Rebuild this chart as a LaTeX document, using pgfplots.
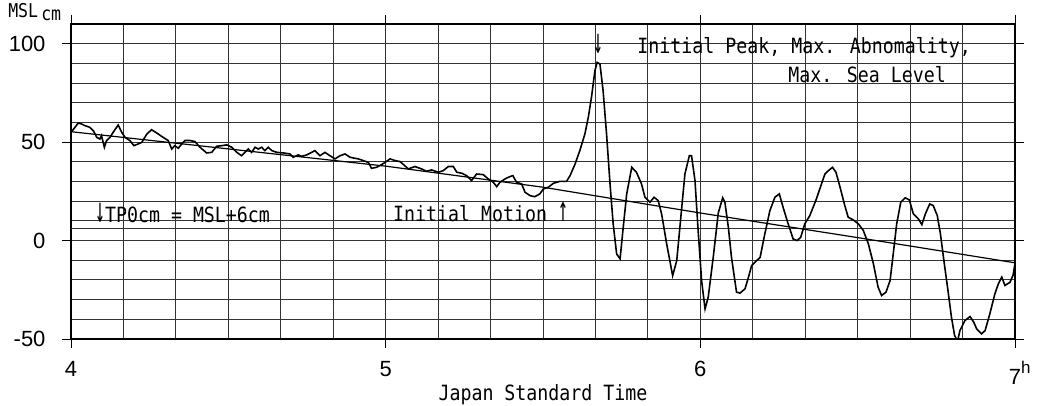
\documentclass[border=0pt]{standalone}
\usepackage{fontspec}
\setmainfont{Liberation Sans}
\newfontfamily\mono[FakeStretch=0.87]{DejaVu Sans Mono}
\usepackage{pgfplots}
\pgfplotsset{compat=1.18}

\newcommand\annfont{\mono\fontsize{21bp}{25bp}\selectfont}
\newcommand\dn{\scalebox{0.9}[1.7]{↓}}
\newcommand\up{\scalebox{0.9}[1.7]{↑}}

\begin{document}
\begin{tikzpicture}
\begin{axis}[
    scale only axis, width=944bp, height=315bp,
    xmin=4, xmax=7, ymin=-50, ymax=110,
    xtick={4,5,6,7},
    xticklabels={4,5,6,{7\rlap{\raisebox{0.5em}{\fontsize{17bp}{17bp}\selectfont h}}}},
    ytick={-50,0,50,100},
    yticklabels={-50,0,50,100},
    minor xtick={4.1667,4.3333,4.5,4.6667,4.8333,5.1667,5.3333,5.5,5.6667,5.8333,6.1667,6.3333,6.5,6.6667,6.8333},
    minor ytick={-40,-30,-20,-10,10,20,30,40,60,70,80,90},
    extra y ticks={6}, extra y tick labels={},
    extra y tick style={major tick length=0pt},
    grid=both,
    major grid style={black!80, line width=0.9bp},
    minor grid style={black!80, line width=0.9bp},
    tick align=outside, major tick length=9bp, minor tick length=0pt,
    tick style={black, line width=0.9bp},
    axis line style={line width=1.6bp},
    ticklabel style={font=\fontsize{22bp}{26bp}\selectfont},
    xticklabel style={yshift=-10bp},
    yticklabel style={xshift=-13bp},
    clip mode=individual,
]
% observed sea level
\addplot[black, line width=1.6bp, mark=none] coordinates {
(4.002,55.3) (4.023,59.7) (4.034,59.2) (4.044,58.4) (4.060,57.5) (4.071,55.8)
(4.082,52.4) (4.092,51.6) (4.097,53.3) (4.106,47.4) (4.113,50.8) (4.124,52.4)
(4.134,55.0) (4.150,58.7) (4.161,55.0) (4.172,52.4) (4.187,50.8) (4.200,48.2)
(4.214,49.1) (4.225,49.9) (4.241,54.1) (4.256,56.3) (4.272,54.7) (4.293,52.4)
(4.309,50.8) (4.320,46.5) (4.330,48.2) (4.341,46.9) (4.352,49.1) (4.362,50.8)
(4.378,50.8) (4.394,50.3) (4.410,47.4) (4.431,44.5) (4.447,44.8) (4.463,47.9)
(4.479,48.2) (4.495,48.6) (4.511,47.4) (4.527,44.8) (4.542,43.1) (4.553,44.8)
(4.563,46.5) (4.574,44.8) (4.585,47.4) (4.595,46.5) (4.606,47.4) (4.616,45.7)
(4.627,47.4) (4.638,45.7) (4.654,44.8) (4.675,44.5) (4.696,44.0) (4.706,42.3)
(4.722,43.5) (4.733,42.8) (4.749,43.5) (4.765,44.8) (4.775,45.7) (4.791,43.1)
(4.807,44.8) (4.823,43.1) (4.839,41.5) (4.855,43.1) (4.871,44.0) (4.887,42.3)
(4.902,41.8) (4.913,41.5) (4.929,40.6) (4.945,39.7) (4.955,36.7) (4.971,37.2)
(4.982,38.1) (4.998,39.7) (5.014,41.5) (5.030,40.6) (5.046,40.1) (5.072,36.4)
(5.093,37.6) (5.114,36.4) (5.130,35.2) (5.146,35.9) (5.167,34.7) (5.183,35.5)
(5.199,37.6) (5.215,37.6) (5.226,34.7) (5.242,34.2) (5.257,33.0) (5.273,30.5)
(5.289,33.8) (5.310,33.5) (5.326,31.3) (5.342,29.6) (5.353,27.4) (5.363,29.6)
(5.379,31.3) (5.389,32.1) (5.404,33.0) (5.416,29.6) (5.432,28.8) (5.443,24.5)
(5.459,22.8) (5.474,22.3) (5.490,23.7) (5.501,26.2) (5.517,27.1) (5.533,29.1)
(5.554,30.1) (5.575,30.1) (5.586,33.0) (5.602,38.9) (5.617,45.7) (5.633,54.1)
(5.644,62.6) (5.654,72.7) (5.665,86.3) (5.672,90.5) (5.681,89.7) (5.691,76.1)
(5.702,54.1) (5.713,28.8) (5.723,8.5) (5.734,-6.8) (5.745,-9.3) (5.755,6.8)
(5.766,23.7) (5.782,37.2) (5.797,34.7) (5.813,28.8) (5.824,22.0) (5.840,19.5)
(5.853,22.0) (5.866,20.3) (5.877,13.5) (5.893,-1.7) (5.912,-17.8) (5.925,-10.2)
(5.941,16.9) (5.951,33.8) (5.965,43.1) (5.972,43.1) (5.983,30.5) (5.993,5.1)
(6.004,-20.3) (6.015,-34.7) (6.025,-28.8) (6.041,-8.5) (6.057,14.0) (6.071,21.7)
(6.078,19.5) (6.089,6.8) (6.099,-8.5) (6.115,-26.2) (6.126,-26.7) (6.142,-24.5)
(6.153,-18.6) (6.163,-12.7) (6.174,-11.0) (6.190,-8.5) (6.205,3.4) (6.221,15.2)
(6.237,22.0) (6.251,23.7) (6.263,16.9) (6.279,8.5) (6.295,0.8) (6.308,0.0)
(6.319,1.7) (6.332,8.5) (6.348,12.7) (6.369,21.2) (6.385,28.8) (6.396,33.8)
(6.407,35.5) (6.420,37.2) (6.431,34.7) (6.444,27.1) (6.459,17.8) (6.470,11.8)
(6.486,10.5) (6.502,8.5) (6.518,5.1) (6.534,-1.7) (6.550,-11.8) (6.565,-23.7)
(6.576,-27.9) (6.590,-26.2) (6.603,-20.3) (6.613,-6.8) (6.624,8.5) (6.637,19.5)
(6.651,21.7) (6.664,20.7) (6.677,13.5) (6.693,11.0) (6.704,8.1) (6.715,13.5)
(6.729,18.6) (6.740,17.8) (6.753,12.7) (6.763,3.4) (6.774,-10.2) (6.787,-25.4)
(6.798,-38.9) (6.808,-48.2) (6.814,-50.0) (6.819,-50.0) (6.825,-45.7) (6.841,-40.6)
(6.857,-38.6) (6.869,-41.5) (6.878,-44.8) (6.894,-47.4) (6.905,-45.7) (6.920,-37.2)
(6.936,-27.1) (6.947,-22.0) (6.958,-18.6) (6.968,-22.8) (6.984,-21.2) (6.994,-17.5)
(7.000,-11.5)
};
% mean sea level trend
\addplot[black, line width=1.2bp, mark=none] coordinates {
(4,55.3) (5,37.8) (5.5,27.1) (6,14.0) (6.5,1.5) (7,-11.3)
};

\node[anchor=base west, inner sep=0pt, font=\annfont] at (axis cs:4.076,9.4) {\dn TP0cm = MSL+6cm};
\node[anchor=base west, inner sep=0pt, font=\annfont] at (axis cs:5.023,9.9) {Initial Motion \up};
\node[anchor=base, inner sep=0pt, font=\annfont] at (axis cs:5.675,95.2) {\dn};
\node[anchor=base west, inner sep=0pt, font=\annfont] at (axis cs:5.799,95.2) {Initial Peak, Max. Abnomality,};
\node[anchor=base west, inner sep=0pt, font=\annfont] at (axis cs:6.279,80.5) {Max. Sea Level};
\node[anchor=base west, inner sep=0pt, font=\mono\fontsize{19bp}{22bp}\selectfont] at (axis cs:3.80,113.5) {MSL\,\raisebox{-3bp}{cm}};
\node[anchor=base, inner sep=0pt, font=\annfont] at (axis cs:5.5,-81) {Japan Standard Time};

\coordinate (sw) at (rel axis cs:0,0);
\coordinate (ne) at (rel axis cs:1,1);
\end{axis}
\pgfresetboundingbox
\path ([shift={(-71bp,-67bp)}]sw) rectangle ([shift={(36bp,24bp)}]ne);
\end{tikzpicture}
\end{document}
